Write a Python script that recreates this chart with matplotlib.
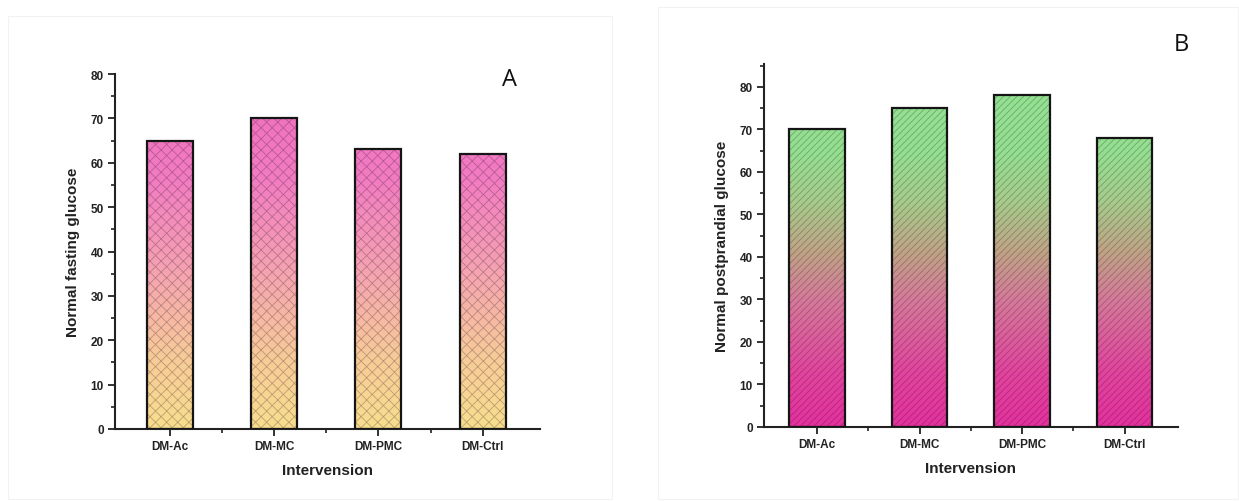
import numpy as np
import matplotlib
matplotlib.use("Agg")
import matplotlib.pyplot as plt
from matplotlib.colors import LinearSegmentedColormap
from matplotlib.ticker import MultipleLocator, FixedLocator
from matplotlib.patches import Rectangle

categories = ["DM-Ac", "DM-MC", "DM-PMC", "DM-Ctrl"]
fasting_values = [65, 70, 63, 62]
postprandial_values = [70, 75, 78, 68]
ylabel_a = "Normal fasting glucose"
ylabel_b = "Normal postprandial glucose"
xlabel = "Intervension"

plt.rcParams['font.family'] = ['Liberation Sans', 'DejaVu Sans']
plt.rcParams['hatch.linewidth'] = 0.6

fig = plt.figure(figsize=(12.39, 5.02), dpi=100)
W, H = 1239, 502

def fig_rect(x0, y0, x1, y1):
    return [x0 / W, 1 - y1 / H, (x1 - x0) / W, (y1 - y0) / H]

# faint panel frames
fig.patches.append(Rectangle((8 / W, 1 - 500 / H), (612 - 8) / W, (500 - 17) / H,
                             transform=fig.transFigure, fill=False,
                             edgecolor='#f2f2f2', linewidth=0.8))
fig.patches.append(Rectangle((658 / W, 1 - 500 / H), (1238 - 658) / W, (500 - 8) / H,
                             transform=fig.transFigure, fill=False,
                             edgecolor='#f2f2f2', linewidth=0.8))

cmap_a = LinearSegmentedColormap.from_list(
    "a", [(0.0, "#f8de8e"), (0.2, "#f7cb98"), (0.45, "#f5a2b2"), (0.7, "#f27cc2"), (1.0, "#f06cbe")])
cmap_b = LinearSegmentedColormap.from_list(
    "b", [(0.0, "#e4309e"), (0.15, "#e2449e"), (0.35, "#d57a9a"), (0.48, "#bfa386"),
          (0.62, "#a6cc8b"), (0.75, "#94df90"), (1.0, "#92e393")])


def panel(rect, values, ylabel, ymax, yticks_max, width, xlim, cmap, hatch, letter, letter_xy):
    ax = fig.add_axes(rect)
    x = np.arange(1, len(values) + 1)
    bars = ax.bar(x, values, width=width, color='none', edgecolor='none', zorder=1)
    grad = np.linspace(0, 1, 256).reshape(-1, 1)
    for b in bars:
        im = ax.imshow(grad, extent=[b.get_x(), b.get_x() + b.get_width(), 0, ymax],
                       origin='lower', aspect='auto', cmap=cmap, zorder=1.5,
                       interpolation='bilinear')
        im.set_clip_path(b)
    ax.bar(x, values, width=width, fill=False, hatch=hatch,
           edgecolor=(0.15, 0.05, 0.1, 0.28), linewidth=0, zorder=2)
    ax.bar(x, values, width=width, fill=False, edgecolor='#151515', linewidth=1.6, zorder=3)

    ax.set_xlim(*xlim)
    ax.set_ylim(0, ymax)
    for s in ['top', 'right']:
        ax.spines[s].set_visible(False)
    for s in ['left', 'bottom']:
        ax.spines[s].set_linewidth(1.5)
        ax.spines[s].set_color('#222222')
    ax.set_xticks(x)
    ax.set_xticklabels(categories, fontsize=8.5, fontweight='bold', color='#222222')
    ax.xaxis.set_minor_locator(FixedLocator([1.5, 2.5, 3.5]))
    ax.set_yticks(np.arange(0, yticks_max + 1, 10))
    ax.yaxis.set_minor_locator(MultipleLocator(5))
    ax.tick_params(axis='both', which='major', direction='out', length=5, width=1.3,
                   color='#222222', labelsize=8.5, pad=3)
    ax.tick_params(axis='both', which='minor', direction='out', length=3, width=1.2,
                   color='#222222')
    for lab in ax.get_yticklabels():
        lab.set_fontweight('bold')
        lab.set_color('#222222')
    ax.set_ylabel(ylabel, fontsize=11, fontweight='bold', color='#222222', labelpad=8)
    ax.set_xlabel(xlabel, fontsize=11, fontweight='bold', color='#222222', labelpad=8)
    fig.text(letter_xy[0] / W, 1 - letter_xy[1] / H, letter, fontsize=17,
             family=['Open Sans', 'DejaVu Sans'], ha='center', va='center', color='#111111')
    return ax


panel(fig_rect(115, 75, 540, 430), fasting_values, ylabel_a, 80, 80, 0.44,
      (0.474, 4.55), cmap_a, 'xxx', 'A', (509, 80))
panel(fig_rect(764, 65, 1178, 428), postprandial_values, ylabel_b, 85.4, 80, 0.54,
      (0.484, 4.52), cmap_b, '/////', 'B', (1181, 45))

fig.savefig("out.png", dpi=100, facecolor='white')
